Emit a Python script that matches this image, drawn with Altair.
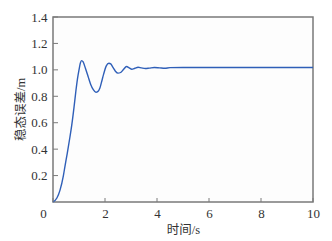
import altair as alt
import pandas as pd

t = [0, 0.15, 0.27, 0.4, 0.46, 0.55, 0.65, 0.72, 0.81, 0.88, 0.94, 1.0, 1.05, 1.10,
     1.16, 1.25, 1.35, 1.45, 1.55, 1.65, 1.72, 1.8, 1.87, 1.95, 2.05, 2.15, 2.22, 2.3,
     2.4, 2.5, 2.6, 2.7, 2.83, 2.93, 3.03, 3.15, 3.27, 3.4, 3.55, 3.7, 3.9, 4.1, 4.3,
     4.5, 5, 6, 7, 8, 9, 10]
err = [0, 0.03, 0.09, 0.2, 0.27, 0.37, 0.49, 0.58, 0.72, 0.84, 0.93, 1.0, 1.05, 1.07,
       1.06, 1.01, 0.95, 0.89, 0.85, 0.83, 0.835, 0.86, 0.91, 0.97, 1.03, 1.05, 1.045, 1.02,
       0.99, 0.975, 0.98, 1.0, 1.025, 1.015, 1.005, 1.012, 1.02, 1.015, 1.01, 1.013, 1.018,
       1.015, 1.012, 1.017, 1.018, 1.018, 1.018, 1.018, 1.018, 1.018]

x_ticks = [0, 2, 4, 6, 8, 10]
y_ticks = [0.2, 0.4, 0.6, 0.8, 1.0, 1.2, 1.4]

df = pd.DataFrame({"t": t, "e": err})
xt = pd.DataFrame({"v": x_ticks})
yt = pd.DataFrame({"v": y_ticks})

serif = "Liberation Serif"
cjk = "Liberation Serif, Noto Sans CJK SC"

xscale = alt.Scale(domain=[0, 10], nice=False, zero=False)
yscale = alt.Scale(domain=[0, 1.4], nice=False, zero=False)

xaxis = alt.Axis(values=x_ticks, format="d", ticks=False, domain=False, grid=False,
                 labelPadding=5, labelFlush=False, labelOverlap=False,
                 labelOffset={"condition": {"test": "datum.value === 0", "value": -10}, "value": 0},
                 title="时间/s", titleX=130, titleY=31, titleBaseline="alphabetic")
yaxis = alt.Axis(values=y_ticks, format=".1f", ticks=False, domain=False, grid=False,
                 labelPadding=6, labelFlush=False, labelOverlap=False,
                 title="稳态误差/m", titleX=-33, titleY=92, titleAngle=-90,
                 titleBaseline="middle", titleAlign="center")

line = alt.Chart(df).mark_line(color="#2f5fb8", strokeWidth=1.4, interpolate="monotone").encode(
    x=alt.X("t:Q", scale=xscale, axis=xaxis),
    y=alt.Y("e:Q", scale=yscale, axis=yaxis),
)

ytick = alt.Chart(yt).mark_rule(color="#7a7a7a", strokeWidth=1).encode(
    y=alt.Y("v:Q", scale=yscale, axis=yaxis),
    x=alt.value(0), x2=alt.value(5),
)
xtick = alt.Chart(xt).mark_rule(color="#7a7a7a", strokeWidth=1).encode(
    x=alt.X("v:Q", scale=xscale, axis=xaxis),
    y=alt.value(185), y2=alt.value(181),
)

chart = alt.layer(line, ytick, xtick).properties(
    width=260, height=185,
    padding={"left": 53, "top": 17, "right": 19, "bottom": 39},
    autosize=alt.AutoSizeParams(type="none"),
    background="white",
).configure_view(
    stroke="#7a7a7a", strokeWidth=1.5, fill="#fdfdfd"
).configure_axis(
    labelFont=serif, labelFontSize=13, labelColor="#333",
    titleFont=cjk, titleFontSize=12.5, titleFontWeight="normal", titleColor="#333",
)

chart.save("out.html", embed_options={"renderer": "svg", "actions": False})
